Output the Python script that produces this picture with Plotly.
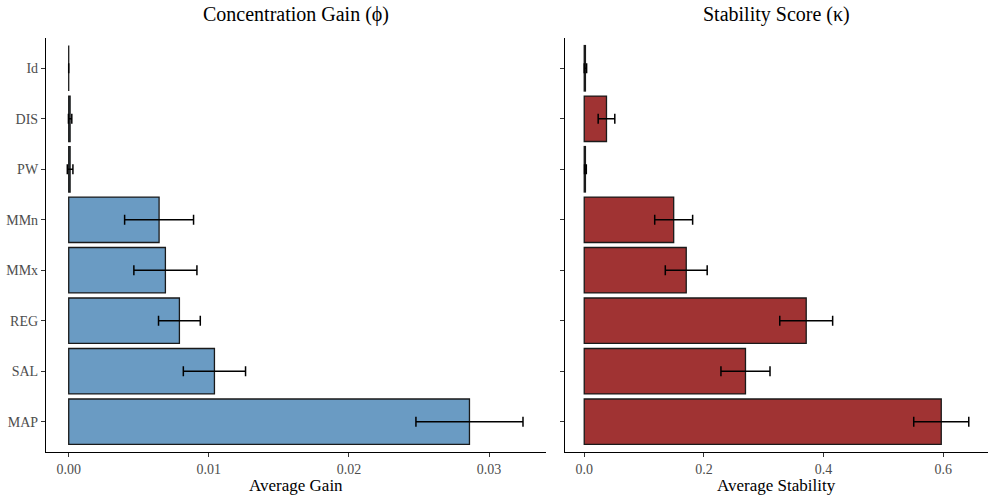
import plotly.graph_objects as go

categories = ["Id", "DIS", "PW", "MMn", "MMx", "REG", "SAL", "MAP"]
gain_mean = [0.0, 0.0001, 0.0001, 0.00645, 0.0069, 0.0079, 0.0104, 0.0286]
gain_err = [0.0, 0.00012, 0.0002, 0.00246, 0.00225, 0.00149, 0.00222, 0.00382]
stab_mean = [0.002, 0.0372, 0.002, 0.1495, 0.1705, 0.3710, 0.2695, 0.5967]
stab_err = [0.002, 0.0139, 0.0015, 0.0317, 0.0350, 0.0442, 0.0410, 0.0460]
gain_ticks = [0.0, 0.01, 0.02, 0.03]
gain_ticklabels = ["0.00", "0.01", "0.02", "0.03"]
stab_ticks = [0.0, 0.2, 0.4, 0.6]
stab_ticklabels = ["0.0", "0.2", "0.4", "0.6"]

FONT = "Liberation Serif"
blue = "#6A9BC3"
red = "#A03333"

fig = go.Figure()
fig.add_trace(go.Bar(
    y=categories, x=gain_mean, orientation="h", width=0.9,
    marker=dict(color=blue, line=dict(color="#1a1a1a", width=1.3)),
    error_x=dict(type="data", array=gain_err, visible=True, color="black", thickness=1.5, width=5),
    xaxis="x", yaxis="y", showlegend=False,
))
fig.add_trace(go.Bar(
    y=categories, x=stab_mean, orientation="h", width=0.9,
    marker=dict(color=red, line=dict(color="#1a1a1a", width=1.3)),
    error_x=dict(type="data", array=stab_err, visible=True, color="black", thickness=1.5, width=5),
    xaxis="x2", yaxis="y2", showlegend=False,
))

gmax = max(m + e for m, e in zip(gain_mean, gain_err))
smax = max(m + e for m, e in zip(stab_mean, stab_err))

axis_common = dict(
    showline=True, linecolor="black", linewidth=1.2, mirror=False,
    ticks="outside", ticklen=4, tickcolor="#333333", tickwidth=1,
    showgrid=False, zeroline=False,
    tickfont=dict(family=FONT, size=14, color="#4D4D4D"),
)

L_DOM = [46/996, 545.7/996]
R_DOM = [565/996, 988/996]

fig.update_layout(
    width=996, height=498,
    margin=dict(l=0, r=0, t=38, b=46),
    plot_bgcolor="white", paper_bgcolor="white",
    font=dict(family=FONT),
    xaxis=dict(domain=L_DOM, range=[-0.05*gmax, 1.05*gmax],
               tickvals=gain_ticks, ticktext=gain_ticklabels,
               anchor="y", **axis_common),
    yaxis=dict(domain=[0, 1], range=[7.6, -0.6], type="category",
               categoryorder="array", categoryarray=categories,
               anchor="x", **axis_common),
    xaxis2=dict(domain=R_DOM, range=[-0.05*smax, 1.05*smax],
                tickvals=stab_ticks, ticktext=stab_ticklabels,
                anchor="y2", **axis_common),
    yaxis2=dict(domain=[0, 1], range=[7.6, -0.6], type="category",
                categoryorder="array", categoryarray=categories,
                showticklabels=False, anchor="x2", **axis_common),
    annotations=[
        dict(text="Concentration Gain (ϕ)", x=sum(L_DOM)/2, y=1, xref="paper", yref="paper",
             xanchor="center", yanchor="middle", yshift=24,
             showarrow=False, font=dict(family=FONT, size=20, color="black")),
        dict(text="Stability Score (κ)", x=sum(R_DOM)/2, y=1, xref="paper", yref="paper",
             xanchor="center", yanchor="middle", yshift=24,
             showarrow=False, font=dict(family=FONT, size=20, color="black")),
        dict(text="Average Gain", x=sum(L_DOM)/2, y=0, xref="paper", yref="paper",
             xanchor="center", yanchor="middle", yshift=-33,
             showarrow=False, font=dict(family=FONT, size=17, color="black")),
        dict(text="Average Stability", x=sum(R_DOM)/2, y=0, xref="paper", yref="paper",
             xanchor="center", yanchor="middle", yshift=-33,
             showarrow=False, font=dict(family=FONT, size=17, color="black")),
    ],
)

fig.write_html("out.html", config={"displayModeBar": False},
               post_script="document.body.style.margin='0';document.body.style.padding='0';")
